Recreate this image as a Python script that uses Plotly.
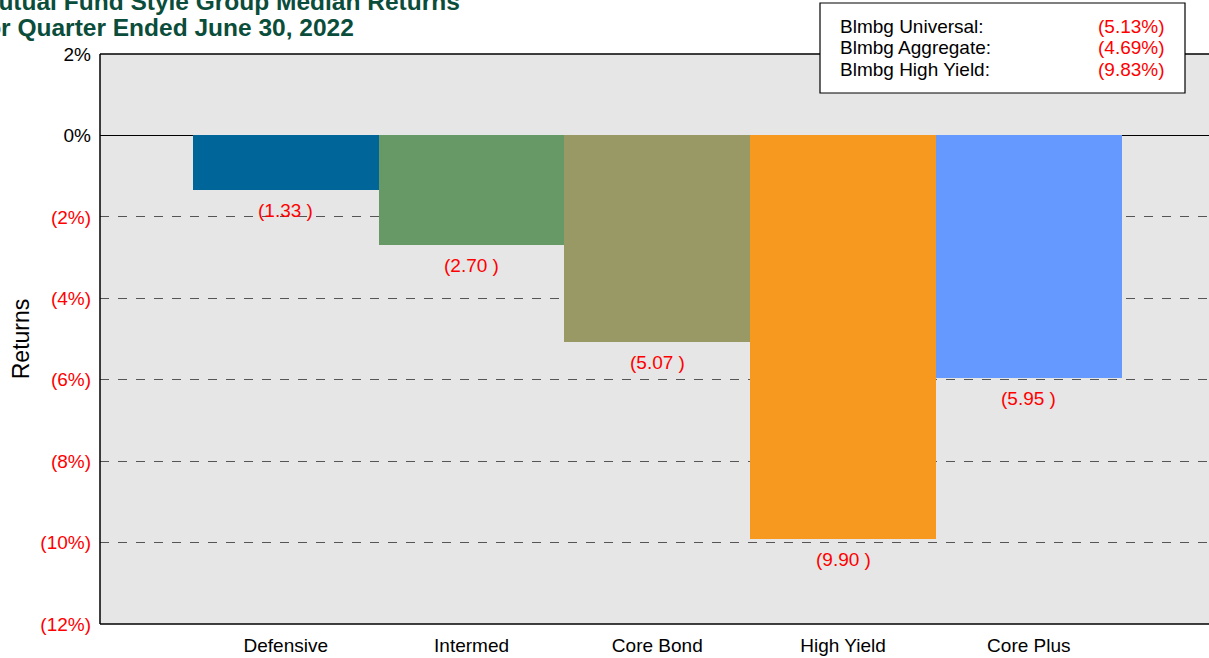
import plotly.graph_objects as go

# Style group median returns (%)
categories = ["Defensive", "Intermed", "Core Bond", "High Yield", "Core Plus"]
returns = [-1.33, -2.70, -5.07, -9.90, -5.95]
bar_colors = ["#006699", "#669966", "#999966", "#f7991f", "#6699ff"]

# Benchmark returns (%)
bench_names = ["Blmbg Universal:", "Blmbg Aggregate:", "Blmbg High Yield:"]
bench_values = [-5.13, -4.69, -9.83]

y_ticks = [2, 0, -2, -4, -6, -8, -10, -12]

FONT = "Liberation Sans, Arial, Helvetica, sans-serif"
RED = "#ff0000"

W, H = 1209, 658
ML, MR, MT, MB = 100, 0, 54, 34
PW, PH = W - ML - MR, H - MT - MB


def px(x):
    return (x - ML) / PW


def py(y):
    return 1 + (MT - y) / PH


def pct(v):
    if v < 0:
        return f"({abs(v):g}%)"
    return f"{v:g}%"


def paren(v):
    return f"({abs(v):.2f} )" if v < 0 else f"{v:.2f}"


tick_text = [
    f'<span style="color:{RED}">{pct(t)}</span>' if t < 0 else pct(t)
    for t in y_ticks
]

x_idx = list(range(len(categories)))

fig = go.Figure(
    go.Bar(
        x=x_idx,
        y=returns,
        marker=dict(color=bar_colors, line=dict(width=0)),
        width=1.0,
        hoverinfo="skip",
    )
)

annotations = []
# value labels under each bar
for i, v in zip(x_idx, returns):
    annotations.append(dict(
        x=i, y=v, xref="x", yref="y", text=paren(v), showarrow=False,
        yanchor="top", yshift=-8, font=dict(color=RED, size=19, family=FONT),
    ))

# two-line title, left edge running past the page
title_lines = ["Mutual Fund Style Group Median Returns",
               "for Quarter Ended June 30, 2022"]
for line, yc in zip(title_lines, [2, 27]):
    annotations.append(dict(
        x=px(-24), y=py(yc), xref="paper", yref="paper", text=f"<b>{line}</b>",
        showarrow=False, xanchor="left", yanchor="middle",
        font=dict(color="#0b4d3b", size=24.5, family=FONT),
    ))

# benchmark box text
for name, val, yc in zip(bench_names, bench_values, [26, 48, 70]):
    annotations.append(dict(
        x=px(838), y=py(yc), xref="paper", yref="paper", text=name,
        showarrow=False, xanchor="left", yanchor="middle",
        font=dict(color="black", size=19, family=FONT),
    ))
    annotations.append(dict(
        x=px(1167), y=py(yc), xref="paper", yref="paper", text=pct(val),
        showarrow=False, xanchor="right", yanchor="middle",
        font=dict(color=RED, size=19, family=FONT),
    ))

shapes = [
    # plot frame: left, top, bottom
    dict(type="line", xref="paper", yref="paper", x0=0, x1=0, y0=0, y1=1,
         line=dict(color="black", width=1.5), layer="above"),
    dict(type="line", xref="paper", yref="paper", x0=0, x1=1, y0=1, y1=1,
         line=dict(color="black", width=1.5), layer="above"),
    dict(type="line", xref="paper", yref="paper", x0=0, x1=1, y0=0, y1=0,
         line=dict(color="black", width=1.5), layer="above"),
    # benchmark box
    dict(type="rect", xref="paper", yref="paper",
         x0=px(820), x1=px(1185), y0=py(93), y1=py(3),
         fillcolor="white", line=dict(color="black", width=1.2), layer="above"),
]

fig.update_layout(
    width=W, height=H,
    margin=dict(l=ML, r=MR, t=MT, b=MB),
    paper_bgcolor="white",
    plot_bgcolor="#e6e6e6",
    showlegend=False,
    bargap=0,
    font=dict(family=FONT, size=19, color="black"),
    annotations=annotations,
    shapes=shapes,
    xaxis=dict(
        range=[-1, 4.97],
        tickvals=x_idx,
        ticktext=categories,
        showgrid=False,
        zeroline=False,
        showline=False,
        ticks="",
        ticklabelstandoff=8,
        tickfont=dict(size=19, family=FONT, color="black"),
    ),
    yaxis=dict(
        range=[-12, 2],
        tickvals=y_ticks,
        ticktext=tick_text,
        showgrid=True,
        gridcolor="#555555",
        griddash="dash",
        gridwidth=1,
        zeroline=True,
        zerolinecolor="black",
        zerolinewidth=1.2,
        showline=False,
        ticks="",
        ticklabelstandoff=8,
        tickfont=dict(size=19, family=FONT, color="black"),
        title=dict(text="Returns", font=dict(size=23, family=FONT, color="black"),
                   standoff=4),
    ),
)

fig.write_html("out.html")
